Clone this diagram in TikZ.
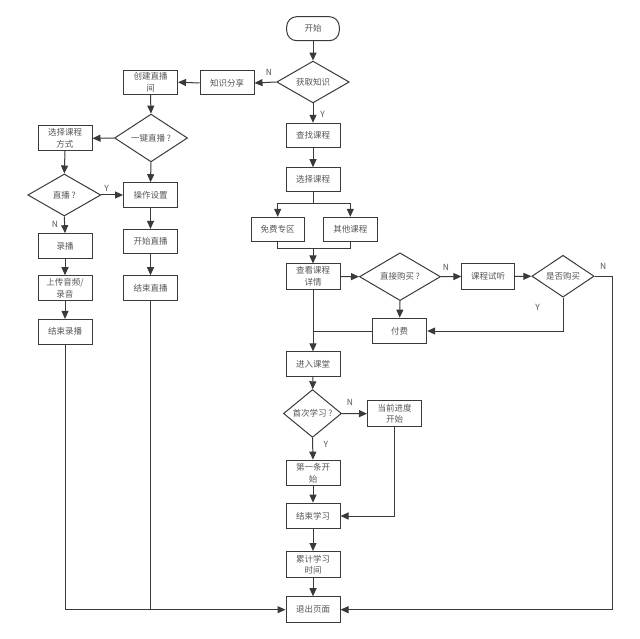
\documentclass[tikz,border=0pt]{standalone}
\usepackage{fontspec}
\setmainfont{Noto Sans CJK SC}
\usetikzlibrary{shapes.geometric,arrows.meta}
\definecolor{lc}{HTML}{3A3A3A}
\definecolor{tc}{HTML}{555555}
\newcommand{\fz}{\fontsize{8.5}{11.5}\selectfont}
\begin{document}
\begin{tikzpicture}[x=1pt,y=-1pt,
  box/.style={draw=lc, line width=1pt, minimum width=54pt, minimum height=24.6pt, inner sep=1pt, font=\fz, text=tc, align=center},
  dia/.style={diamond, draw=lc, line width=1pt, inner sep=0pt, font=\fz, text=tc, align=center},
  arr/.style={draw=lc, line width=1pt, -{Triangle[length=8pt,width=7pt]}},
  ln/.style={draw=lc, line width=1pt},
  lab/.style={font=\fz, text=tc, inner sep=0pt}]
\useasboundingbox (0,0) rectangle (640,639);
\node[box, rounded corners=10pt, minimum width=52.6pt, minimum height=24pt] (start) at (313,28.7) {开始};
\node[dia, minimum width=72.6pt, minimum height=41pt] (get) at (313,82) {获取知识};
\node[box, minimum height=24pt] (share) at (227,83) {知识分享};
\node[box, minimum height=24.3pt] (create) at (150.5,82.2) {创建直播\\间};
\node[dia, minimum width=73pt, minimum height=42pt] (onekey) at (151,138) {一键直播 ?};
\node[box] (mode) at (65,138.3) {选择课程\\方式};
\node[dia, minimum width=73pt, minimum height=42pt] (live) at (64.3,195) {直播 ?};
\node[box] (opset) at (150.5,195) {操作设置};
\node[box] (record) at (65,246) {录播};
\node[box] (startlive) at (150.5,241.7) {开始直播};
\node[box] (upload) at (65,288) {上传音频/\\录音};
\node[box] (endlive) at (150.5,288) {结束直播};
\node[box] (endrec) at (65,331.7) {结束录播};
\node[box, minimum height=24pt] (find) at (313,135.3) {查找课程};
\node[box, minimum height=24pt] (select) at (313,179.7) {选择课程};
\node[box, minimum width=53.3pt, minimum height=24.4pt] (free) at (277.7,229.5) {免费专区};
\node[box, minimum height=24.4pt] (other) at (350.3,229.5) {其他课程};
\node[box, minimum height=25pt] (detail) at (313,276.5) {查看课程\\详情};
\node[dia, minimum width=81pt, minimum height=39pt] (buy) at (400,276.7) {直接购买 ?};
\node[box, minimum width=52.3pt, minimum height=25pt] (trial) at (488,276.5) {课程试听};
\node[dia, minimum width=62.3pt, minimum height=29pt] (wbuy) at (563,276.2) {是否购买};
\node[box, minimum height=25.7pt] (pay) at (399.7,331) {付费};
\node[box, minimum height=24.3pt] (enter) at (313,364) {进入课堂};
\node[dia, minimum width=58pt, minimum height=35pt] (first) at (312.5,413.5) {首次学习 ?};
\node[box, minimum height=26pt] (current) at (394.5,413.7) {当前进度\\开始};
\node[box, minimum height=25.7pt] (firstone) at (313,473) {第一条开\\始};
\node[box, minimum height=25.7pt] (endstudy) at (313,516) {结束学习};
\node[box, minimum height=26pt] (accum) at (313,564.5) {累计学习\\时间};
\node[box, minimum height=26pt] (exit) at (313,609.7) {退出页面};
% labels
\node[lab] (lN1) at (269,72.7) {N};
\node[lab] (lY1) at (322.7,114) {Y};
\node[lab] (lY2) at (106.7,188.3) {Y};
\node[lab] (lN2) at (55,224) {N};
\node[lab] (lN3) at (446,267.3) {N};
\node[lab] (lN4) at (603.3,266) {N};
\node[lab] (lY3) at (537.7,307.3) {Y};
\node[lab] (lN5) at (350,402.7) {N};
\node[lab] (lY4) at (326,444) {Y};
% connectors
\draw[arr] (start) -- (get);
\draw[arr] (get.west) -- (share.east);
\draw[arr] (share.west) -- (create.east);
\draw[arr] (create.south) -- (onekey.north);
\draw[arr] (onekey.west) -- (mode.east);
\draw[arr] (onekey.south) -- (opset.north);
\draw[arr] (mode.south) -- (live.north);
\draw[arr] (live.east) -- (opset.west);
\draw[arr] (live.south) -- (record.north);
\draw[arr] (record) -- (upload);
\draw[arr] (upload) -- (endrec);
\draw[arr] (opset) -- (startlive);
\draw[arr] (startlive) -- (endlive);
\draw[arr] (endrec.south) |- (exit.west);
\draw[ln] (endlive.south) -- (endlive.south |- exit.west);
\draw[arr] (get.south) -- (find.north);
\draw[arr] (find) -- (select);
\coordinate (sp) at (313,204);
\draw[ln] (select.south) -- (sp);
\draw[arr] (sp) -| (free.north);
\draw[arr] (sp) -| (other.north);
\coordinate (mg) at (313,248.3);
\draw[ln] (free.south) |- (mg);
\draw[ln] (other.south) |- (mg);
\draw[arr] (mg) -- (detail.north);
\draw[arr] (detail.east) -- (buy.west);
\draw[arr] (buy.east) -- (trial.west);
\draw[arr] (trial.east) -- (wbuy.west);
\coordinate (rr) at (612.7,276.2);
\draw[arr] (wbuy.east) -- (rr) |- (exit.east);
\draw[arr] (wbuy.south) |- (pay.east);
\draw[arr] (buy.south) -- (pay.north);
\draw[ln] (pay.west) -- (detail.south |- pay.west);
\draw[arr] (detail.south) -- (enter.north);
\draw[arr] (enter) -- (first);
\draw[arr] (first.east) -- (current.west);
\draw[arr] (first.south) -- (firstone.north);
\draw[arr] (firstone) -- (endstudy);
\draw[arr] (current.south) |- (endstudy.east);
\draw[arr] (endstudy) -- (accum);
\draw[arr] (accum) -- (exit);
\end{tikzpicture}
\end{document}
